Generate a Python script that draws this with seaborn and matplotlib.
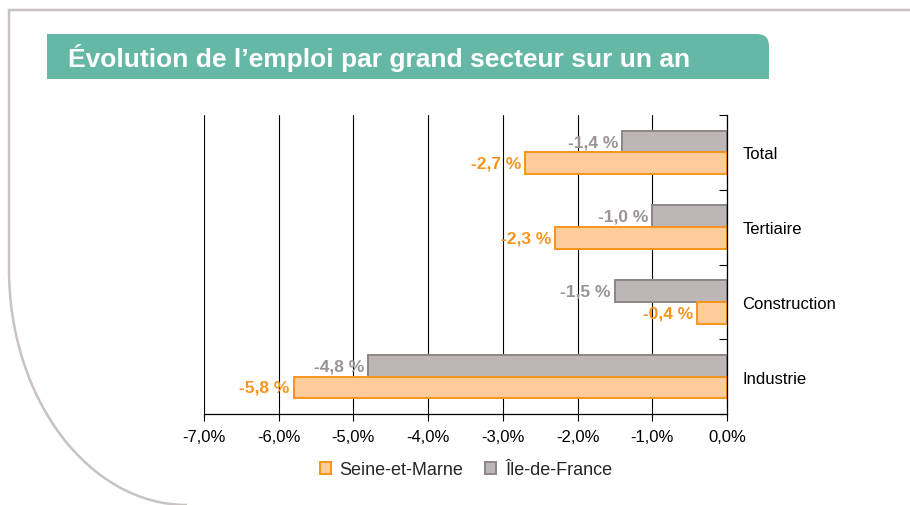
import matplotlib
matplotlib.use("Agg")
import matplotlib.pyplot as plt
import pandas as pd
import seaborn as sns
from matplotlib.patches import Patch, PathPatch
from matplotlib.path import Path
from matplotlib.ticker import FixedLocator

# Data
secteurs = ["Total", "Tertiaire", "Construction", "Industrie"]
seine_et_marne = [-2.7, -2.3, -0.4, -5.8]
ile_de_france = [-1.4, -1.0, -1.5, -4.8]
x_ticks = [-7, -6, -5, -4, -3, -2, -1, 0]

df = pd.DataFrame({
    "Secteur": secteurs * 2,
    "Zone": ["Île-de-France"] * 4 + ["Seine-et-Marne"] * 4,
    "Evolution": ile_de_france + seine_et_marne,
})

sns.set_style("white")
plt.rcParams["font.family"] = ["Liberation Sans", "DejaVu Sans"]

W, H = 910, 506
fig = plt.figure(figsize=(W / 100, H / 100), dpi=100)


def px(x, y):
    # pixel position (from top left) to figure fraction
    return (x / W, 1 - y / H)


# Grey frame with rounded bottom-left corner
frame = Path(
    [px(910, 11), px(9, 11), px(9, 270), px(9, 400), px(89, 506), px(187, 506)],
    [Path.MOVETO, Path.LINETO, Path.LINETO, Path.CURVE4, Path.CURVE4, Path.CURVE4],
)
fig.patches.append(PathPatch(frame, transform=fig.transFigure, fill=False,
                             edgecolor="#c8c2c0", lw=1.8))

# Title banner
banner = Path(
    [px(47, 80), px(47, 35), px(757, 35), px(769, 35), px(769, 47), px(769, 80), px(47, 80)],
    [Path.MOVETO, Path.LINETO, Path.LINETO, Path.CURVE3, Path.CURVE3, Path.LINETO, Path.CLOSEPOLY],
)
fig.patches.append(PathPatch(banner, transform=fig.transFigure,
                             facecolor="#66b8a6", edgecolor="none"))
fig.text(*px(68, 58), "Évolution de l’emploi par grand secteur sur un an",
         color="white", fontsize=19, fontweight="bold", va="center", ha="left")

left, right = 204 / W, 727 / W
bottom, top = 1 - 415 / H, 1 - 116 / H
ax = fig.add_axes([left, bottom, right - left, top - bottom])

sns.barplot(data=df, y="Secteur", x="Evolution", hue="Zone",
            hue_order=["Île-de-France", "Seine-et-Marne"], order=secteurs,
            palette=["#bdb6b6", "#fcc997"], width=0.58, legend=False, ax=ax)

styles = {
    0: ("#bdb6b6", "#8e8686", "#9b9393"),
    1: ("#fdcc9a", "#f7941d", "#f7941d"),
}
for i, cont in enumerate(ax.containers):
    face, edge, txt = styles[i]
    for bar in cont:
        bar.set_facecolor(face)
        bar.set_edgecolor(edge)
        bar.set_linewidth(1.4)
    vals = ile_de_france if i == 0 else seine_et_marne
    labels = [f"{v:.1f} %".replace(".", ",") for v in vals]
    ax.bar_label(cont, labels=labels, padding=3, color=txt,
                 fontsize=12.5, fontweight="bold")

ax.set_xlim(-7, 0)
ax.set_ylim(3.5, -0.5)
ax.set_xticks(x_ticks)
ax.set_xticklabels([f"{t:.1f}%".replace(".", ",") for t in x_ticks])
ax.grid(axis="x", color="black", lw=0.8)
ax.grid(axis="y", visible=False)
ax.set_axisbelow(True)

ax.yaxis.tick_right()
ax.yaxis.set_minor_locator(FixedLocator([-0.5, 0.5, 1.5, 2.5, 3.5]))
ax.tick_params(axis="y", which="major", length=0, pad=11, labelsize=12,
               labelcolor="black")
ax.tick_params(axis="y", which="minor", right=True, direction="in",
               length=6, width=0.8, color="black")
ax.tick_params(axis="x", bottom=True, direction="out", length=5, width=0.8,
               color="black", labelsize=12, labelcolor="black", pad=6)

for s in ["top", "left"]:
    ax.spines[s].set_visible(False)
for s in ["right", "bottom"]:
    ax.spines[s].set_visible(True)
    ax.spines[s].set_color("black")
    ax.spines[s].set_linewidth(0.9)
ax.set_xlabel("")
ax.set_ylabel("")

handles = [
    Patch(facecolor="#fdcc9a", edgecolor="#f7941d", lw=1.4, label="Seine-et-Marne"),
    Patch(facecolor="#bdb6b6", edgecolor="#8e8686", lw=1.4, label="Île-de-France"),
]
fig.legend(handles=handles, loc="center", bbox_to_anchor=px(466, 471),
           ncol=2, frameon=False, fontsize=13, handlelength=0.6,
           handleheight=0.6, handletextpad=0.5, columnspacing=1.2)

fig.savefig("out.png", dpi=100)
